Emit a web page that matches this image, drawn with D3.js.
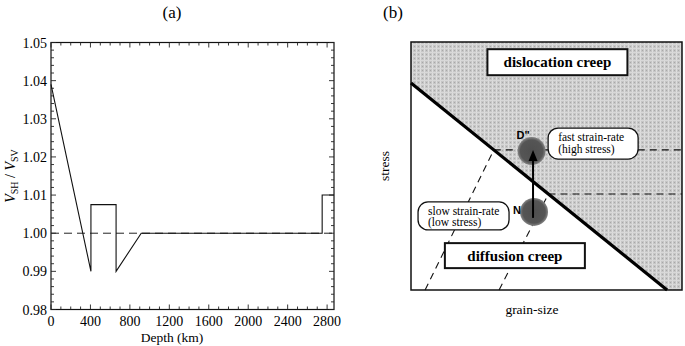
<!DOCTYPE html>
<html>
<head>
<meta charset="utf-8">
<script src="https://cdn.jsdelivr.net/npm/d3@7"></script>
<style>
  body { margin: 0; background: #fff; }
  svg { display: block; font-family: "Liberation Serif", "Times New Roman", serif; }
</style>
</head>
<body>
<div id="chart"></div>
<script>
// ---- panel (a) data: Vsh/Vsv profile vs depth
const depthKm = [0, 405, 405, 660, 660, 915, 2750, 2750, 2870];
const anisoRatio = [1.039, 0.990, 1.0075, 1.0075, 0.990, 1.000, 1.000, 1.010, 1.010];
const refRatio = 1.00;
const depthTicks = [0, 400, 800, 1200, 1600, 2000, 2400, 2800];
const ratioTicks = [0.98, 0.99, 1.00, 1.01, 1.02, 1.03, 1.04, 1.05];

// ---- panel (b) data: schematic deformation map (grain-size vs stress, 0..1)
const boundaryLine = [[0, 0.835], [0.945, 0]];
const strainRateStress = [0.565, 0.387];        // fast (D''), slow (N)
const grainSizeLines = [0.052, 0.325];           // foot of dashed iso-lines at stress 0
const regimes = [
  {name: "D\"", gs: 0.445, stress: 0.56},
  {name: "N", gs: 0.454, stress: 0.315}
];

const W = 685, H = 346;
const svg = d3.select("#chart").append("svg").attr("width", W).attr("height", H);

// ================= panel (a) =================
(function () {
  const margin = {left: 51, top: 42.5, right: 351, bottom: 36.5};
  const x = d3.scaleLinear().domain([0, 2870]).range([margin.left, W - margin.right]);
  const y = d3.scaleLinear().domain([0.98, 1.05]).range([H - margin.bottom, margin.top]);
  const g = svg.append("g");

  g.append("text").attr("x", 172).attr("y", 18).attr("text-anchor", "middle")
    .style("font-size", "17px").text("(a)");

  // frame
  g.append("rect").attr("x", x(0)).attr("y", y(1.05))
    .attr("width", x(2870) - x(0)).attr("height", y(0.98) - y(1.05))
    .attr("fill", "none").attr("stroke", "#111").attr("stroke-width", 1.2);

  const minorX = d3.range(0, 2871, 100);
  const minorY = d3.range(0, 36).map(i => 0.98 + i * 0.002);
  const ticks = g.append("g").attr("stroke", "#222").attr("stroke-width", 0.9);
  minorX.forEach(v => {
    const len = v % 400 === 0 ? 5 : 3;
    ticks.append("line").attr("x1", x(v)).attr("x2", x(v)).attr("y1", y(0.98)).attr("y2", y(0.98) - len);
    ticks.append("line").attr("x1", x(v)).attr("x2", x(v)).attr("y1", y(1.05)).attr("y2", y(1.05) + len);
  });
  minorY.forEach((v, i) => {
    const len = i % 5 === 0 ? 5 : 3;
    ticks.append("line").attr("x1", x(0)).attr("x2", x(0) + len).attr("y1", y(v)).attr("y2", y(v));
    ticks.append("line").attr("x1", x(2870)).attr("x2", x(2870) - len).attr("y1", y(v)).attr("y2", y(v));
  });

  g.selectAll(".xl").data(depthTicks).join("text")
    .attr("x", d => x(d)).attr("y", y(0.98) + 16).attr("text-anchor", "middle")
    .style("font-size", "14px").text(d => d);
  g.selectAll(".yl").data(ratioTicks).join("text")
    .attr("x", x(0) - 4).attr("y", d => y(d) + 5).attr("text-anchor", "end")
    .style("font-size", "14px").text(d3.format(".2f"));

  g.append("text").attr("x", 172).attr("y", 342).attr("text-anchor", "middle")
    .style("font-size", "13.5px").text("Depth (km)");

  const yl = g.append("text").attr("transform", "translate(15,176) rotate(-90)")
    .attr("text-anchor", "middle").style("font-size", "14px");
  yl.append("tspan").style("font-style", "italic").text("V");
  yl.append("tspan").attr("dy", 3).style("font-size", "10px").text("SH");
  yl.append("tspan").attr("dy", -3).text(" / ");
  yl.append("tspan").style("font-style", "italic").text("V");
  yl.append("tspan").attr("dy", 3).style("font-size", "10px").text("SV");

  // reference dashed line
  g.append("line").attr("x1", x(0)).attr("x2", x(2870)).attr("y1", y(refRatio)).attr("y2", y(refRatio))
    .attr("stroke", "#222").attr("stroke-width", 1).attr("stroke-dasharray", "8,5");

  const line = d3.line().x((d, i) => x(d)).y((d, i) => y(anisoRatio[i]));
  g.append("path").attr("d", line(depthKm)).attr("fill", "none")
    .attr("stroke", "#111").attr("stroke-width", 1.1);
})();

// ================= panel (b) =================
(function () {
  const x0 = 411, x1 = 682, y0 = 42, y1 = 290;
  const x = d3.scaleLinear().domain([0, 1]).range([x0, x1]);
  const y = d3.scaleLinear().domain([0, 1]).range([y1, y0]);
  const g = svg.append("g");

  const defs = svg.append("defs");
  const pat = defs.append("pattern").attr("id", "stip").attr("patternUnits", "userSpaceOnUse")
    .attr("width", 4).attr("height", 4);
  pat.append("rect").attr("width", 4).attr("height", 4).attr("fill", "#c6c6c6");
  pat.append("rect").attr("width", 1).attr("height", 4).attr("fill", "#dedede");
  pat.append("rect").attr("width", 4).attr("height", 1).attr("fill", "#d8d8d8");
  pat.append("rect").attr("x", 2).attr("y", 2).attr("width", 1).attr("height", 1).attr("fill", "#a8a8a8");

  const blob = defs.append("radialGradient").attr("id", "blob");
  blob.append("stop").attr("offset", "0%").attr("stop-color", "#4f4f4f");
  blob.append("stop").attr("offset", "80%").attr("stop-color", "#555");
  blob.append("stop").attr("offset", "100%").attr("stop-color", "#858585");

  g.append("text").attr("x", 393).attr("y", 18).attr("text-anchor", "middle")
    .style("font-size", "17px").text("(b)");

  // boundary slope helpers
  const [[bx0, by0], [bx1, by1]] = boundaryLine;
  const boundaryX = s => bx0 + (s - by0) * (bx1 - bx0) / (by1 - by0);

  // dislocation creep field (above boundary)
  const field = [[bx0, by0], [0, 1], [1, 1], [1, 0], [bx1, by1]];
  g.append("path").attr("d", d3.line().x(d => x(d[0])).y(d => y(d[1]))(field) + "Z")
    .attr("fill", "url(#stip)");

  g.append("rect").attr("x", x0).attr("y", y0).attr("width", x1 - x0).attr("height", y1 - y0)
    .attr("fill", "none").attr("stroke", "#111").attr("stroke-width", 1.5);

  // dashed horizontal strain-rate lines
  g.selectAll(".hd").data(strainRateStress).join("line")
    .attr("x1", d => x(boundaryX(d))).attr("x2", x(1))
    .attr("y1", d => y(d)).attr("y2", d => y(d))
    .attr("stroke", "#111").attr("stroke-width", 1.1).attr("stroke-dasharray", "7,5");

  // dashed grain-size lines
  g.selectAll(".sd").data(grainSizeLines).join("line")
    .attr("x1", d => x(d)).attr("y1", y(0))
    .attr("x2", (d, i) => x(boundaryX(strainRateStress[i]))).attr("y2", (d, i) => y(strainRateStress[i]))
    .attr("stroke", "#111").attr("stroke-width", 1.1).attr("stroke-dasharray", "7,5");

  // boundary
  g.append("line").attr("x1", x(bx0)).attr("y1", y(by0)).attr("x2", x(bx1)).attr("y2", y(by1))
    .attr("stroke", "#000").attr("stroke-width", 3.2);

  // regime boxes
  const boxes = [
    {label: "dislocation creep", gx: 0.282, sy: 0.971, w: 140, h: 26},
    {label: "diffusion creep", gx: 0.125, sy: 0.189, w: 140, h: 25}
  ];
  boxes.forEach(b => {
    g.append("rect").attr("x", x(b.gx)).attr("y", y(b.sy)).attr("width", b.w).attr("height", b.h)
      .attr("fill", "#fff").attr("stroke", "#111").attr("stroke-width", 2);
    g.append("text").attr("x", x(b.gx) + b.w / 2).attr("y", y(b.sy) + b.h / 2 + 5)
      .attr("text-anchor", "middle").style("font-size", "15px").style("font-weight", "bold")
      .text(b.label);
  });

  // regime circles
  g.selectAll(".blob").data(regimes).join("circle")
    .attr("cx", d => x(d.gs)).attr("cy", d => y(d.stress)).attr("r", 14)
    .attr("fill", "url(#blob)");

  // arrow N -> D''
  const ax = x(regimes[1].gs) - 1, ayStart = y(regimes[1].stress) + 6, ayTip = y(regimes[0].stress) - 1;
  g.append("line").attr("x1", ax).attr("x2", ax).attr("y1", ayStart).attr("y2", ayTip + 8)
    .attr("stroke", "#000").attr("stroke-width", 2);
  g.append("path").attr("d", `M${ax},${ayTip} L${ax - 4.5},${ayTip + 11} L${ax + 4.5},${ayTip + 11}Z`)
    .attr("fill", "#000");

  // regime names
  g.append("text").attr("x", x(regimes[0].gs) - 15).attr("y", y(regimes[0].stress) - 12)
    .style("font-family", "'Liberation Sans', Arial, sans-serif").style("font-weight", "bold")
    .style("font-size", "11px").text("D\"");
  g.append("text").attr("x", x(regimes[1].gs) - 21).attr("y", y(regimes[1].stress) + 2)
    .style("font-family", "'Liberation Sans', Arial, sans-serif").style("font-weight", "bold")
    .style("font-size", "11px").text("N");

  // rounded callouts
  const callouts = [
    {lines: ["fast strain-rate", "(high stress)"], gx: 0.506, sy: 0.653, w: 90, h: 31},
    {lines: ["slow strain-rate", "(low stress)"], gx: 0.026, sy: 0.355, w: 91, h: 28}
  ];
  callouts.forEach(c => {
    g.append("rect").attr("x", x(c.gx)).attr("y", y(c.sy)).attr("width", c.w).attr("height", c.h)
      .attr("rx", 10).attr("fill", "#fff").attr("stroke", "#111").attr("stroke-width", 1.3);
    c.lines.forEach((t, i) => {
      g.append("text").attr("x", x(c.gx) + 10).attr("y", y(c.sy) + 13 + i * 11.5)
        .style("font-size", "11.5px").text(t);
    });
  });

  g.append("text").attr("transform", "translate(389,166) rotate(-90)").attr("text-anchor", "middle")
    .style("font-size", "13.5px").text("stress");
  g.append("text").attr("x", 532).attr("y", 314).attr("text-anchor", "middle")
    .style("font-size", "13.5px").text("grain-size");
})();
</script>
</body>
</html>
